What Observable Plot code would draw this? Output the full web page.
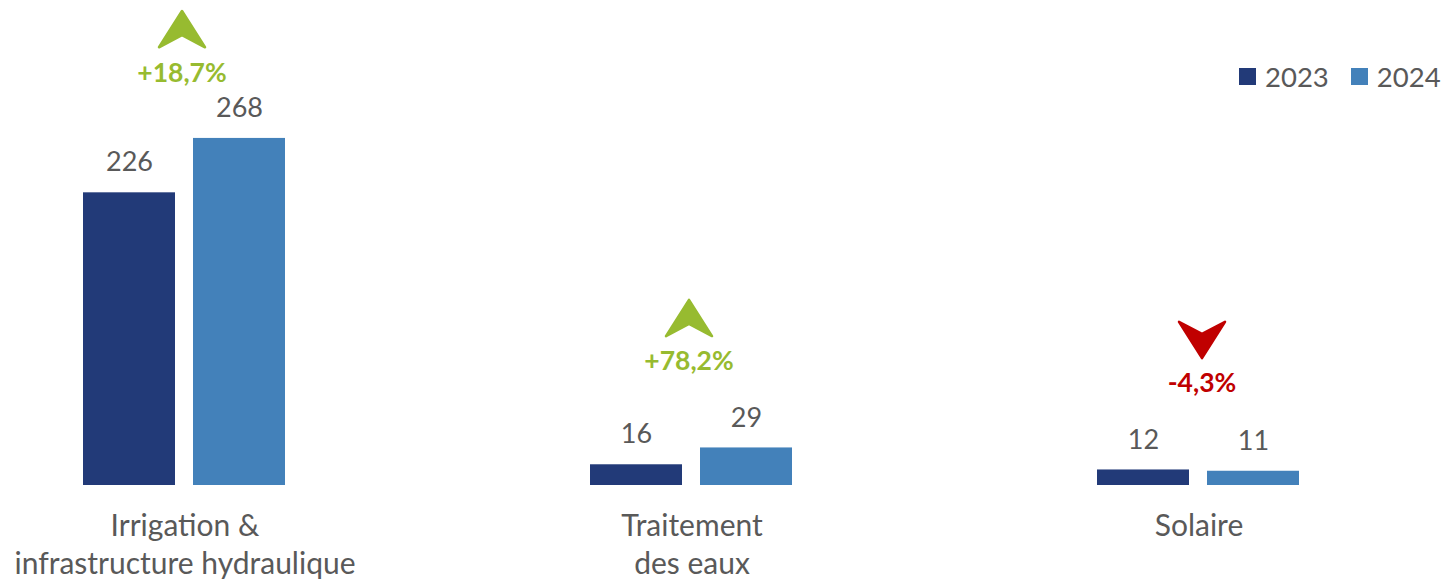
<!DOCTYPE html>
<html><head><meta charset="utf-8">
<script src="https://cdn.jsdelivr.net/npm/d3@7"></script>
<script src="https://cdn.jsdelivr.net/npm/@observablehq/plot@0.6"></script>
<style>
body{margin:0;background:#fff;}
#wrap{position:relative;width:1453px;height:580px;font-family:Lato,"Open Sans",sans-serif;overflow:hidden;}
#legend{position:absolute;top:60px;left:1239px;display:flex;align-items:center;font-size:27.5px;color:#595959;white-space:nowrap;}
#legend .item{display:flex;align-items:center;margin-right:22px;}
#legend .sw{width:17px;height:17px;margin-right:9px;}
</style>
</head><body><div id="wrap"><div id="chart"></div><div id="legend"></div></div>
<script>
const categories = ["Irrigation &\ninfrastructure hydraulique", "Traitement\ndes eaux", "Solaire"];
const years = ["2023", "2024"];
const values2023 = [226, 16, 12];
const values2024 = [268, 29, 11];
const changeLabels = ["+18,7%", "+78,2%", "-4,3%"];
const colors = ["#223A78", "#4381BA"];
const green = "#97BB30", red = "#C00000", textColor = "#595959";

const rows = [];
categories.forEach((c, i) => {
  rows.push({cat: c, year: years[0], value: values2023[i]});
  rows.push({cat: c, year: years[1], value: values2024[i]});
});
const changes = categories.map((c, i) => ({
  cat: c, label: changeLabels[i],
  up: values2024[i] >= values2023[i],
  anchor: Math.min(Math.max(values2023[i], values2024[i]), 252)
}));

function arrowSymbol(dir) {
  return {
    draw(context, size) {
      const r = Math.sqrt(size / Math.PI);
      const hw = r * 1.18, hh = r * 0.93, d = r * 0.62;
      context.moveTo(0, -dir * hh);
      context.lineTo(hw, dir * hh);
      context.lineTo(0, dir * (hh - d));
      context.lineTo(-hw, dir * hh);
      context.closePath();
    }
  };
}

const chart = Plot.plot({
  width: 1453, height: 580,
  marginTop: 0, marginBottom: 95, marginLeft: 0, marginRight: 0,
  style: {fontFamily: "Lato, 'Open Sans', sans-serif", background: "transparent"},
  fx: {domain: categories, range: [-70, 1453], paddingInner: 0, paddingOuter: 0, axis: null, label: null},
  x: {domain: years, paddingInner: 0.162, paddingOuter: 1.367, axis: null, label: null},
  y: {domain: [0, 374.5], axis: null, label: null},
  color: {domain: years, range: colors},
  marks: [
    Plot.barY(rows, {fx: "cat", x: "year", y: "value", fill: "year"}),
    Plot.text(rows, {fx: "cat", x: "year", y: "value", text: d => String(d.value), dy: -30, fontSize: 27, fill: textColor}),
    Plot.text(changes.filter(d => d.up), {fx: "cat", y: "anchor", text: "label", dy: -86, dx: -3, fontSize: 26.5, fontWeight: "bold", fill: green}),
    Plot.text(changes.filter(d => !d.up), {fx: "cat", y: "anchor", text: "label", dy: -86, dx: 3, fontSize: 26.5, fontWeight: "bold", fill: red}),
    Plot.dot(changes.filter(d => d.up), {fx: "cat", y: "anchor", dy: -130, dx: -3, r: 19.5, symbol: arrowSymbol(1), fill: green, stroke: green, strokeWidth: 2.5, strokeLinejoin: "round"}),
    Plot.dot(changes.filter(d => !d.up), {fx: "cat", y: "anchor", dy: -130, dx: 3, r: 19.5, symbol: arrowSymbol(-1), fill: red, stroke: red, strokeWidth: 2.5, strokeLinejoin: "round"}),
    Plot.text(categories, {fx: d => d, text: d => d, frameAnchor: "bottom", lineAnchor: "top", dy: 23, fontSize: 30, lineHeight: 1.27, fill: textColor})
  ]
});
document.getElementById("chart").appendChild(chart);

const legend = document.getElementById("legend");
years.forEach((y, i) => {
  const item = document.createElement("div");
  item.className = "item";
  const sw = document.createElement("span");
  sw.className = "sw"; sw.style.background = colors[i];
  item.appendChild(sw);
  item.appendChild(document.createTextNode(y));
  legend.appendChild(item);
});
</script>
</body></html>
